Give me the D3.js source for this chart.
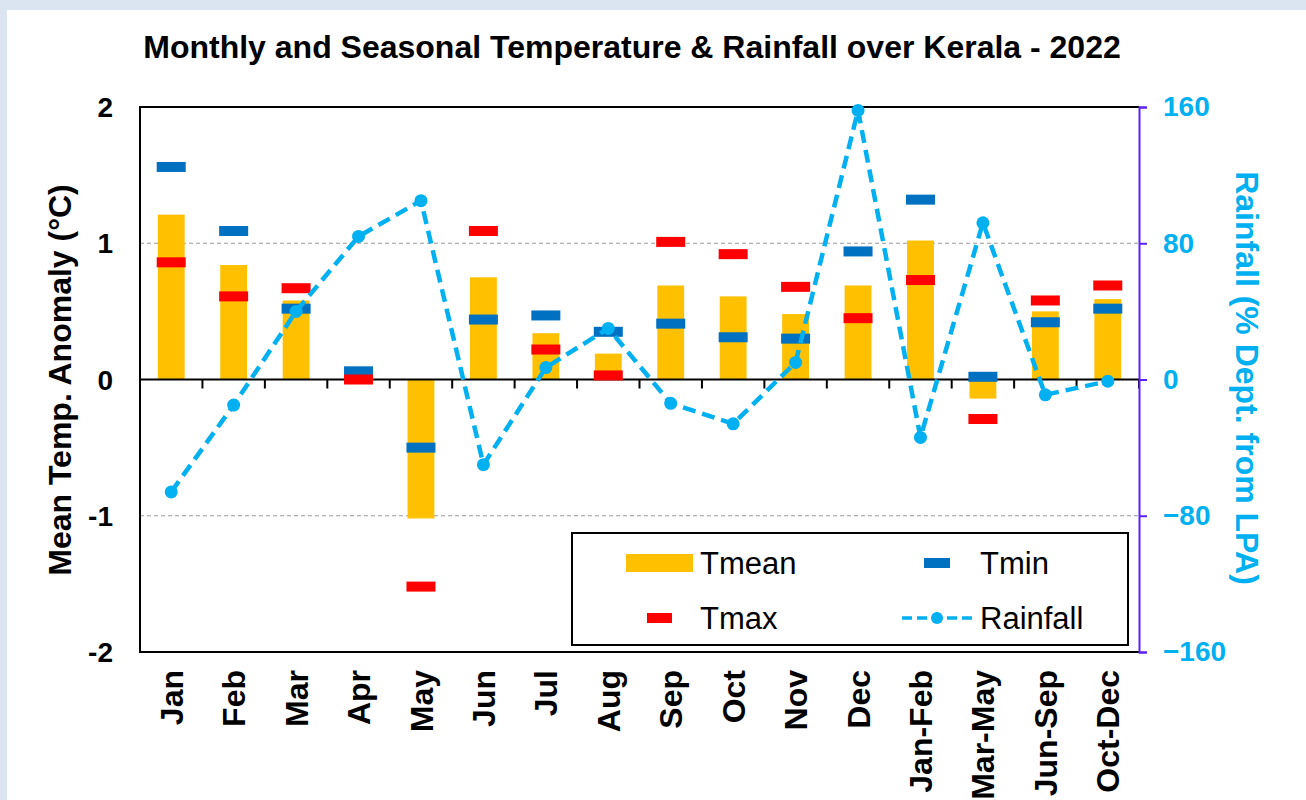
<!DOCTYPE html>
<meta charset="utf-8">
<style>
  body { margin: 0; background: #dbe5f1; }
  svg { display: block; }
  text { font-family: "Liberation Sans", Arial, sans-serif; }
</style>
<svg width="1306" height="800"></svg>
<script src="https://cdn.jsdelivr.net/npm/d3@7/dist/d3.min.js"></script>
<script>
// data
var categories = ['Jan','Feb','Mar','Apr','May','Jun','Jul','Aug','Sep','Oct','Nov','Dec',
  'Jan-Feb','Mar-May','Jun-Sep','Oct-Dec'];
var tmean = [1.21, 0.84, 0.58, 0.0, -1.02, 0.75, 0.34, 0.19, 0.69, 0.61, 0.48, 0.69, 1.02, -0.14, 0.50, 0.59];
var tmin  = [1.56, 1.09, 0.52, 0.06, -0.50, 0.44, 0.47, 0.35, 0.41, 0.31, 0.30, 0.94, 1.32, 0.02, 0.42, 0.52];
var tmax  = [0.86, 0.61, 0.67, 0.00, -1.52, 1.09, 0.22, 0.03, 1.01, 0.92, 0.68, 0.45, 0.73, -0.29, 0.58, 0.69];
var rainfall = [-66, -15, 40, 84, 105, -50, 7, 30, -14, -26, 10, 158, -34, 92, -9, -1];
var leftTicks = [-2, -1, 0, 1, 2];
var rightTicks = [-160, -80, 0, 80, 160];

var cMean = '#ffc000', cMin = '#0070c0', cMax = '#ff0000', cRain = '#00b0f0', cAxis2 = '#5b21f5';

var svg = d3.select('svg');
svg.append('rect').attr('x', 7).attr('y', 10).attr('width', 1306).attr('height', 800).attr('fill', 'white');

var plotL = 140, plotR = 1139, plotT = 107, plotB = 652;

var x = d3.scaleBand().domain(categories).range([plotL, plotR]).padding(0);
var y = d3.scaleLinear().domain([-2, 2]).range([plotB, plotT]);
var y2 = d3.scaleLinear().domain([-160, 160]).range([plotB, plotT]);

// title
svg.append('text').attr('x', 632).attr('y', 58).attr('text-anchor', 'middle')
  .attr('font-size', 32).attr('font-weight', 'bold')
  .text('Monthly and Seasonal Temperature & Rainfall over Kerala - 2022');

// grid lines at +/-1
svg.append('g').selectAll('line').data([1, -1]).enter().append('line')
  .attr('x1', plotL).attr('x2', plotR).attr('y1', d => y(d)).attr('y2', d => y(d))
  .attr('stroke', '#999').attr('stroke-dasharray', '4,3');

// plot border (left, top, bottom)
svg.append('path')
  .attr('d', 'M' + plotR + ',' + plotT + 'H' + plotL + 'V' + plotB + 'H' + plotR)
  .attr('fill', 'none').attr('stroke', 'black').attr('stroke-width', 2);

// left tick labels
svg.append('g').selectAll('text').data(leftTicks).enter().append('text')
  .attr('x', 113).attr('y', d => y(d)).attr('dy', '0.36em').attr('text-anchor', 'end')
  .attr('font-size', 28).attr('font-weight', 'bold')
  .text(d => d);

// left axis title
svg.append('text').attr('transform', 'translate(71,380) rotate(-90)').attr('text-anchor', 'middle')
  .attr('font-size', 32).attr('font-weight', 'bold')
  .text('Mean Temp. Anomaly (°C)');

// bars
var bw = x.bandwidth() * 0.43;
svg.append('g').selectAll('rect').data(tmean).enter().append('rect')
  .attr('x', (d, i) => x(categories[i]) + (x.bandwidth() - bw) / 2)
  .attr('y', d => y(Math.max(0, d)))
  .attr('width', bw)
  .attr('height', d => Math.abs(y(d) - y(0)))
  .attr('fill', cMean);

// zero line with ticks between categories
svg.append('line').attr('x1', plotL).attr('x2', plotR).attr('y1', y(0)).attr('y2', y(0))
  .attr('stroke', 'black').attr('stroke-width', 2);
svg.append('g').selectAll('line').data(categories.slice(1).concat(['end'])).enter().append('line')
  .attr('x1', d => d === 'end' ? plotR : x(d)).attr('x2', d => d === 'end' ? plotR : x(d))
  .attr('y1', y(0)).attr('y2', y(0) + 9)
  .attr('stroke', 'black').attr('stroke-width', 2);

// markers
var mw = 29, mh = 10;
function markers(vals, color) {
  svg.append('g').selectAll('rect').data(vals).enter().append('rect')
    .attr('x', (d, i) => x(categories[i]) + (x.bandwidth() - mw) / 2)
    .attr('y', d => y(d) - mh / 2)
    .attr('width', mw).attr('height', mh)
    .attr('fill', color);
}
markers(tmin, cMin);
markers(tmax, cMax);

// rainfall line
var line = d3.line()
  .x((d, i) => x(categories[i]) + x.bandwidth() / 2)
  .y(d => y2(d));
svg.append('path').datum(rainfall).attr('d', line)
  .attr('fill', 'none').attr('stroke', cRain).attr('stroke-width', 4.5)
  .attr('stroke-dasharray', '13,7');
svg.append('g').selectAll('circle').data(rainfall).enter().append('circle')
  .attr('cx', (d, i) => x(categories[i]) + x.bandwidth() / 2)
  .attr('cy', d => y2(d)).attr('r', 6.5)
  .attr('fill', cRain);

// right axis
var ax2 = svg.append('g').attr('transform', 'translate(' + plotR + ',0)')
  .call(d3.axisRight(y2).tickValues(rightTicks).tickSize(8).tickPadding(16));
ax2.select('.domain').attr('stroke', cAxis2).attr('stroke-width', 2);
ax2.selectAll('.tick line').attr('stroke', cAxis2).attr('stroke-width', 2);
ax2.selectAll('.tick text').attr('fill', cRain).attr('font-size', 28).attr('font-weight', 'bold')
  .attr('font-family', '"Liberation Sans", Arial, sans-serif');

svg.append('text').attr('transform', 'translate(1236,378) rotate(90)').attr('text-anchor', 'middle')
  .attr('font-size', 32).attr('font-weight', 'bold').attr('fill', cRain)
  .text('Rainfall (% Dept. from LPA)');

// x labels
svg.append('g').selectAll('text').data(categories).enter().append('text')
  .attr('transform', d => 'translate(' + (x(d) + x.bandwidth() / 2) + ',670) rotate(-90)')
  .attr('dy', '0.36em').attr('text-anchor', 'end')
  .attr('font-size', 32).attr('font-weight', 'bold')
  .text(d => d);

// legend
var lg = svg.append('g');
lg.append('rect').attr('x', 572).attr('y', 533).attr('width', 556).attr('height', 112)
  .attr('fill', 'white').attr('stroke', 'black').attr('stroke-width', 2);
lg.append('rect').attr('x', 626).attr('y', 554).attr('width', 67).attr('height', 18).attr('fill', cMean);
lg.append('rect').attr('x', 924).attr('y', 558).attr('width', 26).attr('height', 10).attr('fill', cMin);
lg.append('rect').attr('x', 647).attr('y', 613).attr('width', 25).attr('height', 10).attr('fill', cMax);
lg.append('line').attr('x1', 902).attr('x2', 972).attr('y1', 618).attr('y2', 618)
  .attr('stroke', cRain).attr('stroke-width', 3.5).attr('stroke-dasharray', '10,5');
lg.append('circle').attr('cx', 937).attr('cy', 618).attr('r', 6).attr('fill', cRain);
var legText = [['Tmean', 700, 563], ['Tmin', 980, 563], ['Tmax', 700, 618], ['Rainfall', 980, 618]];
lg.selectAll('text.lt').data(legText).enter().append('text').attr('class', 'lt')
  .attr('x', d => d[1]).attr('y', d => d[2]).attr('dy', '0.36em')
  .attr('font-size', 31)
  .text(d => d[0]);
</script>
